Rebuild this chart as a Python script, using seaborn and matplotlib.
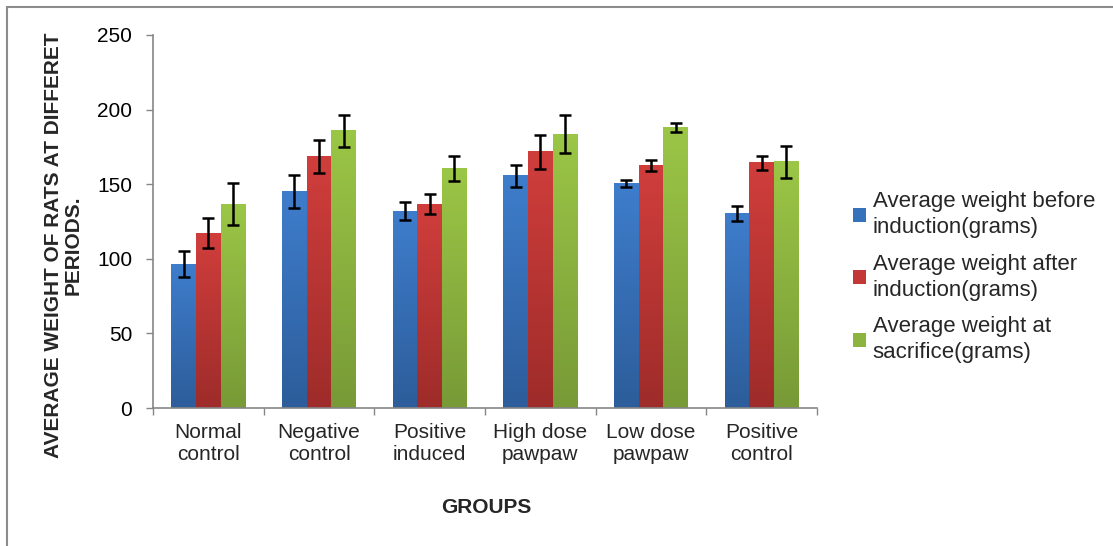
import numpy as np
import pandas as pd
import matplotlib
matplotlib.use("Agg")
import matplotlib.pyplot as plt
import seaborn as sns
from matplotlib.patches import Rectangle
from matplotlib.colors import LinearSegmentedColormap

# Dados
groups = ["Normal\ncontrol", "Negative\ncontrol", "Positive\ninduced",
          "High dose\npawpaw", "Low dose\npawpaw", "Positive\ncontrol"]
series = ["Average weight before\ninduction(grams)",
          "Average weight after\ninduction(grams)",
          "Average weight at\nsacrifice(grams)"]
before = [96.5, 145.2, 131.8, 155.5, 150.6, 130.4]
after = [117.1, 168.7, 136.7, 171.6, 162.6, 164.2]
sacrifice = [136.7, 185.7, 160.6, 183.6, 188.1, 164.9]
err_before = [9.0, 11.0, 6.0, 7.7, 2.5, 4.8]
err_after = [10.0, 11.0, 6.6, 11.5, 3.5, 4.5]
err_sacrifice = [14.0, 11.0, 8.5, 13.0, 3.0, 10.5]
colors = ["#3671BB", "#C23836", "#8DB43F"]
top_colors = ["#3E7DCC", "#D03E3C", "#9BC646"]
bottom_colors = ["#2D5D9A", "#9E2C2A", "#789A37"]

df = pd.DataFrame({
    "group": groups * 3,
    "series": np.repeat(series, len(groups)),
    "value": before + after + sacrifice,
    "err": err_before + err_after + err_sacrifice,
})

sns.set_theme(style="white")
plt.rcParams["font.family"] = ["Liberation Sans", "DejaVu Sans"]

fig = plt.figure(figsize=(11.13, 5.46), dpi=100)
ax = fig.add_axes([0.1375, 0.2527, 0.5966, 0.6832])

sns.barplot(data=df, x="group", y="value", hue="series", palette=colors,
            width=0.67, errorbar=None, saturation=1, linewidth=0, ax=ax,
            legend=True)

# Gradiente nas barras + barras de erro
grad = np.linspace(0, 1, 100).reshape(-1, 1)
for i, (cont, s) in enumerate(zip(ax.containers, series)):
    cmap = LinearSegmentedColormap.from_list("g%d" % i,
                                             [bottom_colors[i], top_colors[i]])
    for p in cont.patches:
        x0 = p.get_x()
        ax.imshow(grad, extent=[x0, x0 + p.get_width(), 0, p.get_height()],
                  origin="lower", cmap=cmap, aspect="auto", zorder=p.get_zorder(),
                  interpolation="bilinear")
    sub = df[df["series"] == s]
    xs = [p.get_x() + p.get_width() / 2 for p in cont.patches]
    hs = [p.get_height() for p in cont.patches]
    ax.errorbar(xs, hs, yerr=sub["err"].values, fmt="none", ecolor="black",
                elinewidth=1.8, capsize=4, capthick=1.8, zorder=5)

ax.set_ylim(0, 250)
ax.set_yticks([0, 50, 100, 150, 200, 250])
ax.set_xlim(-0.5, 5.5)
ax.set_xlabel("")
ax.set_ylabel("")
ax.tick_params(axis="y", labelsize=15, colors="#868686", labelcolor="black",
               left=True, length=5, width=1, pad=10)
ax.tick_params(axis="x", which="major", length=0, labelsize=15, pad=11)
ax.set_xticks(np.arange(-0.5, 6.0, 1), minor=True)
ax.tick_params(axis="x", which="minor", bottom=True, length=5, width=1,
               colors="#868686")
for side in ["top", "right"]:
    ax.spines[side].set_visible(False)
for side in ["left", "bottom"]:
    ax.spines[side].set_color("#868686")
    ax.spines[side].set_linewidth(1.2)

fig.text(0.057, 0.551, "AVERAGE WEIGHT OF RATS AT DIFFERET\nPERIODS.",
         rotation=90, ha="center", va="center", fontsize=15, weight="bold",
         linespacing=1.0)
fig.text(0.4365, 0.07, "GROUPS", ha="center", va="center", fontsize=15,
         weight="bold")

handles, labels = ax.get_legend_handles_labels()
ax.get_legend().remove()
leg = fig.legend(handles, labels, loc="upper left", bbox_to_anchor=(0.748, 0.686),
                 frameon=False, fontsize=16, handlelength=0.6, handleheight=0.6,
                 handletextpad=0.3, labelspacing=0.7)
for t in leg.get_texts():
    t.set_linespacing(1.3)

# Moldura
fig.patches.append(Rectangle((0.006, -0.02), 1.2, 1.007, transform=fig.transFigure,
                             fill=False, edgecolor="#8c8c8c", linewidth=1.5))

fig.savefig("out.png", dpi=100)
